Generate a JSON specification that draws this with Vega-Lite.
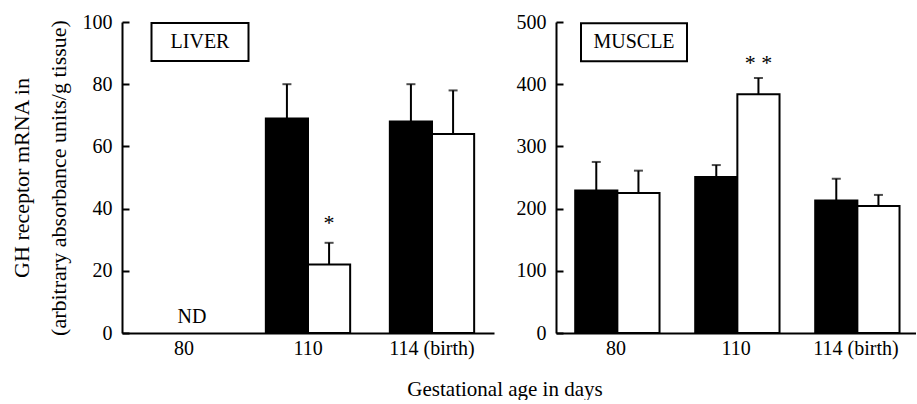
{
  "$schema": "https://vega.github.io/schema/vega-lite/v6.json",
  "padding": {"left": 10, "top": 12, "right": 0, "bottom": 0},
  "background": "white",
  "config": {
    "font": "Liberation Serif",
    "view": {"stroke": null},
    "axis": {
      "labelFont": "Liberation Serif", "labelFontSize": 20, "labelColor": "black",
      "titleFont": "Liberation Serif", "titleFontSize": 22, "titleFontWeight": "normal", "titleColor": "black",
      "domainColor": "black", "domainWidth": 2, "tickColor": "black", "tickWidth": 2, "grid": false
    },
    "concat": {"spacing": 22}
  },
  "title": {"text": "Gestational age in days", "orient": "bottom", "anchor": "middle", "font": "Liberation Serif", "fontSize": 21, "fontWeight": "normal", "color": "black", "offset": 21, "dx": 42},
  "datasets": {
    "bars": [
      {"tissue": "LIVER", "day": "110", "group": "Group 1", "mean": 69, "upper": 80},
      {"tissue": "LIVER", "day": "110", "group": "Group 2", "mean": 22, "upper": 29, "sig": "*"},
      {"tissue": "LIVER", "day": "114 (birth)", "group": "Group 1", "mean": 68, "upper": 80},
      {"tissue": "LIVER", "day": "114 (birth)", "group": "Group 2", "mean": 64, "upper": 78},
      {"tissue": "MUSCLE", "day": "80", "group": "Group 1", "mean": 229, "upper": 275},
      {"tissue": "MUSCLE", "day": "80", "group": "Group 2", "mean": 225, "upper": 261},
      {"tissue": "MUSCLE", "day": "110", "group": "Group 1", "mean": 251, "upper": 270},
      {"tissue": "MUSCLE", "day": "110", "group": "Group 2", "mean": 384, "upper": 410, "sig": "* *"},
      {"tissue": "MUSCLE", "day": "114 (birth)", "group": "Group 1", "mean": 213, "upper": 248},
      {"tissue": "MUSCLE", "day": "114 (birth)", "group": "Group 2", "mean": 204, "upper": 222}
    ]
  },
  "hconcat": [
    {
      "width": 372, "height": 311,
      "layer": [
        {
          "data": {"name": "bars"},
          "transform": [{"filter": "datum.tissue === 'LIVER'"}],
          "mark": {"type": "bar", "stroke": "black", "strokeWidth": 2},
          "encoding": {
            "x": {"field": "day", "type": "nominal", "sort": null,
                  "scale": {"domain": ["80", "110", "114 (birth)"], "paddingInner": 0.32, "paddingOuter": 0.16},
                  "axis": {"title": null, "ticks": false, "labelAngle": 0, "labelPadding": 5}},
            "xOffset": {"field": "group", "scale": {"domain": ["Group 1", "Group 2"]}},
            "y": {"field": "mean", "type": "quantitative",
                  "scale": {"domain": [0, 100], "nice": false},
                  "axis": {"title": ["GH receptor mRNA in", "(arbitrary absorbance units/g tissue)"],
                           "titleLineHeight": 37, "titlePadding": 12,
                           "values": [0, 10, 20, 30, 40, 50, 60, 70, 80, 90, 100],
                           "labelExpr": "datum.value % 20 === 0 ? datum.label : ''",
                           "tickSize": -7, "labelPadding": 17}},
            "fill": {"field": "group", "scale": {"domain": ["Group 1", "Group 2"], "range": ["black", "white"]}, "legend": null}
          }
        },
        {
          "data": {"name": "bars"},
          "transform": [{"filter": "datum.tissue === 'LIVER'"}],
          "mark": {"type": "rule", "strokeWidth": 2, "color": "black"},
          "encoding": {
            "x": {"field": "day", "type": "nominal"},
            "xOffset": {"field": "group"},
            "y": {"field": "mean", "type": "quantitative"},
            "y2": {"field": "upper"}
          }
        },
        {
          "data": {"name": "bars"},
          "transform": [{"filter": "datum.tissue === 'LIVER'"}],
          "mark": {"type": "tick", "size": 9, "thickness": 2, "color": "black"},
          "encoding": {
            "x": {"field": "day", "type": "nominal"},
            "xOffset": {"field": "group"},
            "y": {"field": "upper", "type": "quantitative"}
          }
        },
        {
          "data": {"name": "bars"},
          "transform": [{"filter": "datum.tissue === 'LIVER' && datum.sig"}],
          "mark": {"type": "text", "fontSize": 22, "dy": -13, "baseline": "alphabetic", "color": "black"},
          "encoding": {
            "x": {"field": "day", "type": "nominal"},
            "xOffset": {"field": "group"},
            "y": {"field": "upper", "type": "quantitative"},
            "text": {"field": "sig"}
          }
        },
        {
          "data": {"values": [{"day": "80", "note": "ND"}]},
          "mark": {"type": "text", "fontSize": 20, "dy": -10, "dx": 8, "baseline": "alphabetic", "color": "black"},
          "encoding": {
            "x": {"field": "day", "type": "nominal"},
            "y": {"datum": 0, "type": "quantitative"},
            "text": {"field": "note"}
          }
        },
        {
          "data": {"values": [{"day": "80", "label": "LIVER"}]},
          "mark": {"type": "rect", "fill": "white", "stroke": "black", "strokeWidth": 2, "width": 97, "xOffset": 16},
          "encoding": {
            "x": {"field": "day", "type": "nominal"},
            "y": {"datum": 87.5, "type": "quantitative"},
            "y2": {"datum": 99.7}
          }
        },
        {
          "data": {"values": [{"day": "80", "label": "LIVER"}]},
          "mark": {"type": "text", "fontSize": 20, "baseline": "middle", "xOffset": 16, "color": "black"},
          "encoding": {
            "x": {"field": "day", "type": "nominal"},
            "y": {"datum": 93.6, "type": "quantitative"},
            "text": {"field": "label"}
          }
        }
      ]
    },
    {
      "width": 360, "height": 311,
      "layer": [
        {
          "data": {"name": "bars"},
          "transform": [{"filter": "datum.tissue === 'MUSCLE'"}],
          "mark": {"type": "bar", "stroke": "black", "strokeWidth": 2},
          "encoding": {
            "x": {"field": "day", "type": "nominal", "sort": null,
                  "scale": {"domain": ["80", "110", "114 (birth)"], "paddingInner": 0.32, "paddingOuter": 0.16},
                  "axis": {"title": null, "ticks": false, "labelAngle": 0, "labelPadding": 5}},
            "xOffset": {"field": "group", "scale": {"domain": ["Group 1", "Group 2"]}},
            "y": {"field": "mean", "type": "quantitative",
                  "scale": {"domain": [0, 500], "nice": false},
                  "axis": {"title": null,
                           "values": [0, 50, 100, 150, 200, 250, 300, 350, 400, 450, 500],
                           "labelExpr": "datum.value % 100 === 0 ? datum.label : ''",
                           "tickSize": -7, "labelPadding": 17}},
            "fill": {"field": "group", "scale": {"domain": ["Group 1", "Group 2"], "range": ["black", "white"]}, "legend": null}
          }
        },
        {
          "data": {"name": "bars"},
          "transform": [{"filter": "datum.tissue === 'MUSCLE'"}],
          "mark": {"type": "rule", "strokeWidth": 2, "color": "black"},
          "encoding": {
            "x": {"field": "day", "type": "nominal"},
            "xOffset": {"field": "group"},
            "y": {"field": "mean", "type": "quantitative"},
            "y2": {"field": "upper"}
          }
        },
        {
          "data": {"name": "bars"},
          "transform": [{"filter": "datum.tissue === 'MUSCLE'"}],
          "mark": {"type": "tick", "size": 9, "thickness": 2, "color": "black"},
          "encoding": {
            "x": {"field": "day", "type": "nominal"},
            "xOffset": {"field": "group"},
            "y": {"field": "upper", "type": "quantitative"}
          }
        },
        {
          "data": {"name": "bars"},
          "transform": [{"filter": "datum.tissue === 'MUSCLE' && datum.sig"}],
          "mark": {"type": "text", "fontSize": 22, "dy": -8, "baseline": "alphabetic", "color": "black"},
          "encoding": {
            "x": {"field": "day", "type": "nominal"},
            "xOffset": {"field": "group"},
            "y": {"field": "upper", "type": "quantitative"},
            "text": {"field": "sig"}
          }
        },
        {
          "data": {"values": [{"day": "80", "label": "MUSCLE"}]},
          "mark": {"type": "rect", "fill": "white", "stroke": "black", "strokeWidth": 2, "width": 106, "xOffset": 18},
          "encoding": {
            "x": {"field": "day", "type": "nominal"},
            "y": {"datum": 437, "type": "quantitative"},
            "y2": {"datum": 498}
          }
        },
        {
          "data": {"values": [{"day": "80", "label": "MUSCLE"}]},
          "mark": {"type": "text", "fontSize": 20, "baseline": "middle", "xOffset": 18, "color": "black"},
          "encoding": {
            "x": {"field": "day", "type": "nominal"},
            "y": {"datum": 468, "type": "quantitative"},
            "text": {"field": "label"}
          }
        }
      ]
    }
  ]
}
